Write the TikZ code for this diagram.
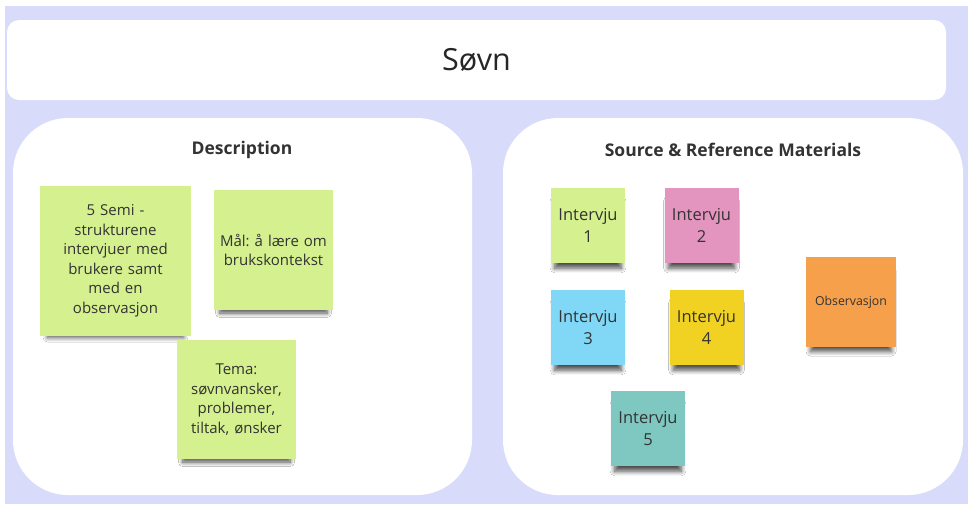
\documentclass[tikz,border=0pt]{standalone}
\usepackage{fontspec}
\setmainfont{Open Sans}
\usetikzlibrary{shadows.blur}
\frenchspacing

\definecolor{lavender}{HTML}{D8DCFA}
\definecolor{inkgray}{HTML}{333333}
\definecolor{limenote}{HTML}{D5F08E}
\definecolor{pinknote}{HTML}{E395BF}
\definecolor{bluenote}{HTML}{80D7F6}
\definecolor{yellownote}{HTML}{F1D223}
\definecolor{tealnote}{HTML}{7EC8C1}
\definecolor{orangenote}{HTML}{F6A04C}

\begin{document}
\begin{tikzpicture}[x=1pt, y=-1pt,
    panel/.style={fill=white, rounded corners=55pt},
    heading/.style={text=inkgray, font=\fontsize{17.5}{20}\selectfont\bfseries},
    sticky/.style={inner sep=0pt, align=center, text=inkgray,
        blur shadow={shadow xshift=0pt, shadow yshift=-10pt, shadow scale=0.9,
        shadow blur radius=5pt, shadow blur steps=8, shadow opacity=70}},
    bignote/.style={sticky, fill=limenote, font=\fontsize{15}{19.5}\selectfont},
    smallnote/.style={sticky, minimum width=74pt, minimum height=75pt, text width=72pt,
        font=\fontsize{16.5}{22}\selectfont}]
    \useasboundingbox (0,0) rectangle (968,504);
    \fill[white] (0,0) rectangle (968,504);
    \fill[lavender] (5,6) rectangle (968,504);

    \node[fill=white, rounded corners=12pt, minimum width=939pt, minimum height=80pt,
        text=black!85, font=\fontsize{30.5}{34}\selectfont] (title) at (476.5,60) {Søvn};

    \fill[panel] (13,118) rectangle (472,495);
    \fill[panel] (503,118) rectangle (963,495);
    \node[heading] (desc) at (242,150) {Description};
    \node[heading] (src) at (733,150) {Source \& Reference Materials};

    \node[bignote, minimum width=151pt, minimum height=150pt, text width=140pt] (semi) at (115.5,261)
        {5 Semi -\\strukturene\\intervjuer med\\brukere samt\\med en\\observasjon};
    \node[bignote, minimum width=119pt, minimum height=120pt, text width=117pt] (maal) at (273.5,250)
        {Mål: å lære om\\brukskontekst};
    \node[bignote, minimum width=119pt, minimum height=119pt, text width=117pt] (tema) at (236.5,399.5)
        {Tema:\\søvnvansker,\\problemer,\\tiltak, ønsker};

    \node[smallnote, fill=limenote] (int1) at (588,225.5) {Intervju\\1};
    \node[smallnote, fill=pinknote] (int2) at (701.5,225.5) {Intervju\\2};
    \node[smallnote, fill=bluenote] (int3) at (588,327.5) {Intervju\\3};
    \node[smallnote, fill=yellownote] (int4) at (706.5,327.5) {Intervju\\4};
    \node[smallnote, fill=tealnote] (int5) at (648,428.5) {Intervju\\5};
    \node[sticky, fill=orangenote, minimum width=90pt, minimum height=90pt,
        font=\fontsize{12.3}{14}\selectfont] (obs) at (851,302) {Observasjon};
\end{tikzpicture}
\end{document}
